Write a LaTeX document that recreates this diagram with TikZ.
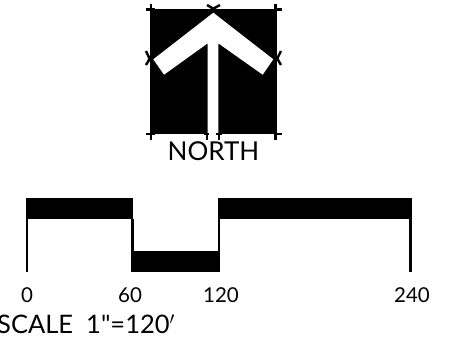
\documentclass[tikz,border=0pt]{standalone}
\usepackage{fontspec}
\setmainfont{Lato}
\newfontfamily\rawfont{Lato}
\usepackage{tikz}

\begin{document}
\begin{tikzpicture}[x=1pt,y=-1pt]
                \useasboundingbox (0,0) rectangle (450,346);
                \begin{scope}[every path/.style={fill=black,draw=none}]
                        \path (150,9) rectangle (277,134);
                        \path (26,198) rectangle (133,219);
                        \path (218,198) rectangle (412,219);
                        \path (132,251) rectangle (220,272);
                \end{scope}
                \fill[white] (213.3,12.7) -- (273.3,59.3) -- (262.7,74.7) -- (218.3,43.3) -- (218.3,134) -- (207.7,134) -- (207.7,43.3) -- (164,74.7) -- (153.3,59.3) -- cycle;
                \begin{scope}[every path/.style={draw=black,line width=2.4pt}]
                        % corner and edge ticks of the square
                        \path (151,4) -- (151,9);
                        \path (146,9.5) -- (155,9.5);
                        \path (275.5,4) -- (275.5,9);
                        \path (274,9.5) -- (282,9.5);
                        \path (207,12) -- (220,5);
                        \path (207,5) -- (220,12.5);
                        \path (146,51) -- (153,66);
                        \path (146,65) -- (153,53);
                        \path (274,65) -- (281,51);
                        \path (274,53) -- (281,65);
                        \path (146,134) -- (155,134);
                        \path (151,134) -- (151,140);
                        \path (274,134) -- (282,134);
                        \path (275.5,134) -- (275.5,140);
                        \path (204,134) -- (209,134);
                        \path (207,134) -- (207,140);
                        \path (216,134) -- (222,134);
                        \path (219,134) -- (219,140);
                        % legs of the scale bar
                        \path (27,219) -- (27,272);
                        \path (132.5,219) -- (132.5,272);
                        \path (219,219) -- (219,272);
                        \path (410.5,219) -- (410.5,272);
                \end{scope}
                \begin{scope}[every node/.style={inner sep=0,text=black}]
                        \node (North) at (213.5,151.5) {\fontsize{26}{26}\selectfont NORTH};
                        \node (Zero) at (27,295) {\fontsize{20.5}{20.5}\selectfont 0};
                        \node (Sixty) at (130,295) {\fontsize{20.5}{20.5}\selectfont 60};
                        \node (OneTwenty) at (221,295) {\fontsize{20.5}{20.5}\selectfont 120};
                        \node (TwoForty) at (412,295) {\fontsize{20.5}{20.5}\selectfont 240};
                        \node[anchor=west] (Scale) at (-3,324) {\fontsize{25.5}{25.5}\selectfont\rawfont SCALE\ \ 1"=120$'$};
                \end{scope}
        \end{tikzpicture}
\end{document}
